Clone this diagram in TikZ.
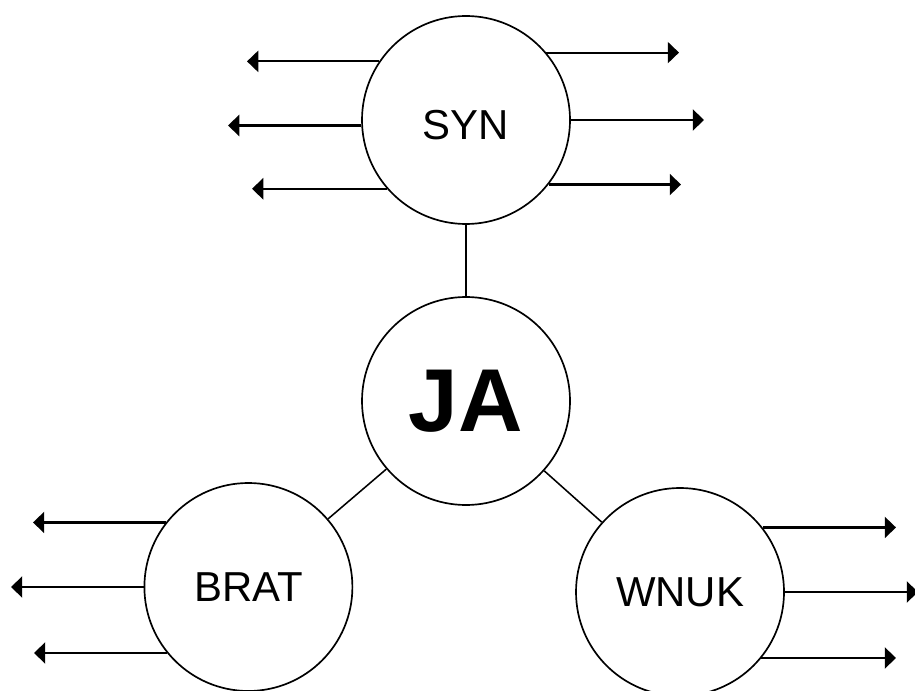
\documentclass[tikz,border=0pt]{standalone}
\usepackage{fontspec}
\setmainfont{Liberation Sans}
\usetikzlibrary{arrows.meta}
\tikzset{
  person/.style={draw, circle, line width=1.2pt, minimum size=5.2cm, inner sep=0pt,
    font=\fontsize{29.8}{32}\selectfont},
  me/.style={person, font=\fontsize{63.5}{70}\selectfont\bfseries},
  link/.style={line width=1.1pt},
  outgoing/.style={line width=1.5pt, -{Triangle[length=8pt,width=15pt]}},
}
\begin{document}
\begin{tikzpicture}
      \useasboundingbox (0,0) rectangle (22.875,-17.275);
      \draw
        (11.65,-3.0) node[person] (syn){\raisebox{-3.5pt}[\height][\depth]{SYN}}
        (11.65,-10.025) node[me] (ja){JA}
        (6.21,-14.675) node[person] (brat){BRAT}
        (17.0,-14.8) node[person] (wnuk){WNUK};
      \begin{scope}[link]
        \draw (ja) to (syn);
        \draw (ja) to (brat);
        \draw (ja) to (wnuk);
      \end{scope}
      % relations leading out of each circle: angle on the rim / x of the tip
      \foreach \a/\x in {146/6.175, 183/5.7, 221/6.3, 40/16.975, 0/17.6, -38/17.025} {
        \coordinate (tip) at (\x,0);
        \draw[outgoing] (syn.\a) -- (syn.\a -| tip);
      }
      \foreach \a/\x in {142/0.825, 180/0.275, 219/0.85} {
        \coordinate (tip) at (\x,0);
        \draw[outgoing] (brat.\a) -- (brat.\a -| tip);
      }
      \foreach \a/\x in {38/22.4, 0/22.95, -39/22.4} {
        \coordinate (tip) at (\x,0);
        \draw[outgoing] (wnuk.\a) -- (wnuk.\a -| tip);
      }
    \end{tikzpicture}
\end{document}
